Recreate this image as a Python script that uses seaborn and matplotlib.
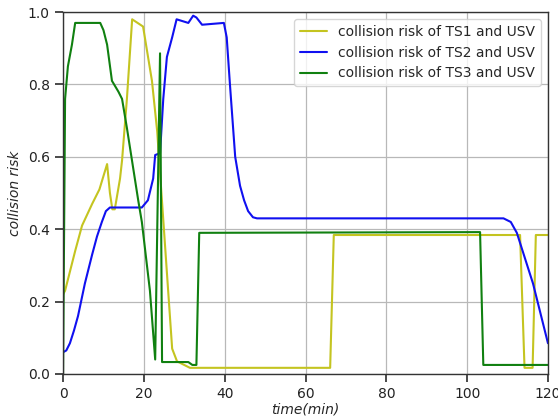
import matplotlib
matplotlib.use("Agg")
import matplotlib.pyplot as plt
import seaborn as sns
import pandas as pd

# TS1 and USV
t1 = [0, 0.5, 3.0, 4.7, 7.2, 9.0, 10.9, 11.6, 12.2, 12.8, 14.1, 14.6, 15.8, 17.1, 19.8, 22.0, 23.3, 25.7, 27.0, 28.2, 31.4, 66.1, 67.0, 113.1, 114.2, 116.2, 117.0, 120]
v1 = [0.22, 0.23, 0.34, 0.41, 0.47, 0.51, 0.58, 0.50, 0.455, 0.455, 0.54, 0.59, 0.76, 0.98, 0.96, 0.81, 0.67, 0.28, 0.07, 0.035, 0.017, 0.017, 0.384, 0.384, 0.017, 0.017, 0.384, 0.384]

# TS2 and USV
t2 = [0, 0.8, 1.7, 2.7, 3.7, 5.4, 7.2, 8.4, 9.6, 10.6, 11.6, 19.5, 21.0, 22.3, 22.8, 24.0, 24.8, 25.7, 27.0, 28.1, 31.0, 32.2, 33.0, 34.4, 39.8, 40.5, 41.3, 42.6, 43.8, 44.8, 45.8, 47.0, 48.0, 109.0, 110.8, 112.3, 116.3, 120]
v2 = [0.06, 0.065, 0.085, 0.12, 0.16, 0.25, 0.33, 0.38, 0.42, 0.45, 0.46, 0.46, 0.48, 0.54, 0.605, 0.61, 0.76, 0.876, 0.93, 0.98, 0.97, 0.99, 0.985, 0.965, 0.97, 0.93, 0.80, 0.60, 0.52, 0.48, 0.45, 0.433, 0.43, 0.43, 0.42, 0.39, 0.25, 0.085]

# TS3 and USV
t3 = [0, 0.5, 1.2, 2.2, 3.0, 9.2, 10.0, 10.9, 12.1, 13.7, 14.6, 15.8, 18.6, 19.5, 21.5, 22.8, 24.0, 24.5, 31.0, 32.0, 33.0, 33.7, 103.2, 104.0, 120]
v3 = [0.0, 0.76, 0.85, 0.91, 0.97, 0.97, 0.95, 0.91, 0.81, 0.78, 0.76, 0.68, 0.48, 0.42, 0.23, 0.04, 0.886, 0.033, 0.033, 0.025, 0.025, 0.39, 0.392, 0.025, 0.025]

labels = ["collision risk of TS1 and USV", "collision risk of TS2 and USV", "collision risk of TS3 and USV"]
colors = ["#c4c420", "#1010f0", "#108010"]

sns.set_theme(style="ticks", rc={
    "axes.edgecolor": "#333333",
    "axes.linewidth": 1.0,
    "grid.color": "#b8b8b8",
    "grid.linewidth": 0.9,
    "xtick.color": "#333333",
    "ytick.color": "#333333",
    "xtick.labelcolor": "#222222",
    "ytick.labelcolor": "#222222",
    "font.size": 10,
    "xtick.labelsize": 10,
    "ytick.labelsize": 10,
    "axes.labelsize": 10,
    "legend.fontsize": 10,
})
plt.rcParams["font.family"] = ["DejaVu Sans"]

fig = plt.figure(figsize=(5.58, 4.16), dpi=100)
ax = fig.add_axes([0.113, 0.101, 0.869, 0.870])

for t, v, lab, c in zip([t1, t2, t3], [v1, v2, v3], labels, colors):
    df = pd.DataFrame({"t": t, "v": v})
    sns.lineplot(data=df, x="t", y="v", ax=ax, color=c, label=lab, linewidth=1.5, sort=False)

ax.set_xlim(0, 120)
ax.set_ylim(0, 1.0)
ax.set_xticks([0, 20, 40, 60, 80, 100, 120])
ax.set_yticks([0.0, 0.2, 0.4, 0.6, 0.8, 1.0])
ax.set_yticklabels(["0.0", "0.2", "0.4", "0.6", "0.8", "1.0"])
ax.grid(True)
ax.set_xlabel("time(min)", fontstyle="italic", labelpad=1)
ax.set_ylabel("collision risk", fontstyle="italic")
ax.legend(loc="upper right", frameon=True, framealpha=0.8, edgecolor="#cccccc", fancybox=True)

fig.savefig("out.png", dpi=100)
